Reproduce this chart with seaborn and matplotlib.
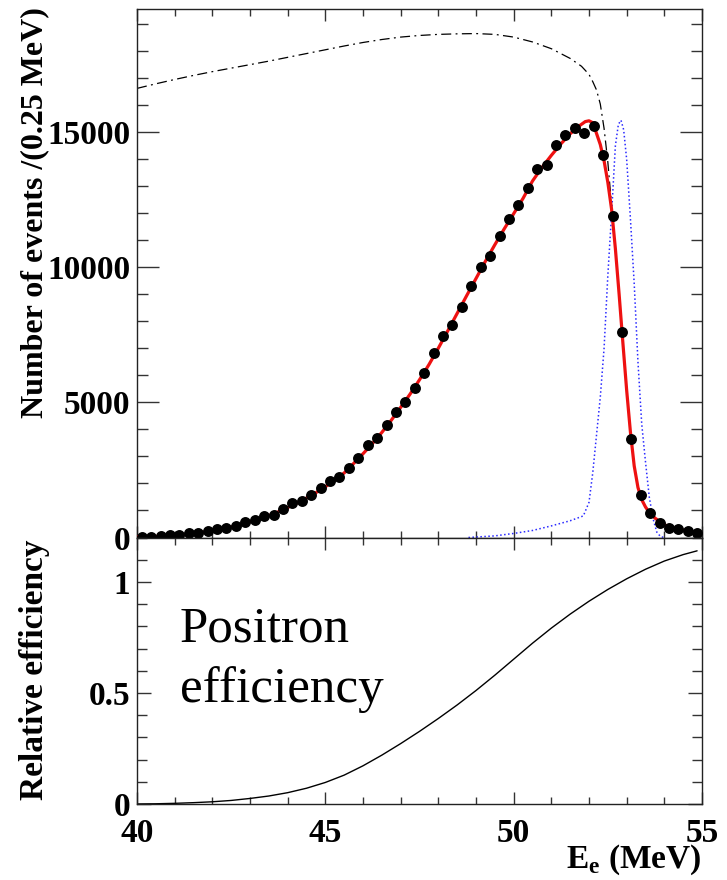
import numpy as np
import pandas as pd
import matplotlib
matplotlib.use("Agg")
import matplotlib.pyplot as plt
import seaborn as sns
from matplotlib.ticker import MultipleLocator

# ---------------- data ----------------
bin_lo, bin_width = 40.0, 0.25
counts = [30, 30, 50, 75, 75, 150, 185, 245, 310, 355,
          430, 565, 650, 790, 850, 1050, 1260, 1345, 1590, 1850,
          2100, 2245, 2580, 2960, 3420, 3670, 4150, 4630, 5025, 5540,
          6085, 6815, 7468, 7876, 8530, 9297, 10000, 10420, 11172, 11778,
          12321, 12938, 13630, 13790, 14519, 14901, 15161, 14987, 15223, 14160,
          11901, 7616, 3630, 1567, 889, 555, 370, 307, 245, 170]

fit_x = [40.0, 40.25, 40.5, 40.75, 41.0, 41.25, 41.5, 41.75, 42.0, 42.25, 42.5, 42.75,
         43.0, 43.25, 43.5, 43.75, 44.0, 44.25, 44.5, 44.75, 45.0, 45.25, 45.5, 45.75,
         46.0, 46.25, 46.5, 46.75, 47.0, 47.25, 47.5, 47.75, 48.0, 48.25, 48.5, 48.75,
         49.0, 49.25, 49.5, 49.75, 50.0, 50.25, 50.5, 50.75, 51.0, 51.25, 51.5, 51.75,
         51.9, 52.0, 52.1, 52.2, 52.3, 52.4, 52.5, 52.6, 52.7, 52.8, 52.9, 53.0,
         53.1, 53.2, 53.3, 53.4, 53.5, 53.6, 53.75, 54.0, 54.25, 54.5, 54.75, 55.0]
fit_y = [25, 30, 40, 55, 80, 110, 150, 195, 250, 315, 390, 480,
         580, 690, 810, 950, 1110, 1280, 1460, 1660, 1880, 2120, 2390, 2740,
         3100, 3480, 3890, 4340, 4820, 5310, 5840, 6400, 7010, 7650, 8300, 8950,
         9590, 10230, 10840, 11430, 11990, 12560, 13200, 13700, 14150, 14570, 14950, 15250,
         15400, 15430, 15360, 14960, 14550, 13950, 13150, 12150, 10700, 9000, 7200, 5450,
         3900, 2650, 1850, 1400, 1130, 930, 720, 470, 340, 270, 210, 160]

michel_x = [40.0, 40.5, 41.0, 41.5, 42.0, 42.5, 43.0, 43.5, 44.0, 44.5, 45.0, 45.5,
            46.0, 46.5, 47.0, 47.5, 48.0, 48.5, 49.0, 49.5, 50.0, 50.5, 51.0, 51.5,
            51.8, 52.0, 52.1, 52.2, 52.3, 52.4, 52.5, 52.6]
michel_y = [16630, 16800, 16960, 17110, 17250, 17380, 17510, 17640, 17780, 17920, 18060, 18200,
            18330, 18440, 18530, 18590, 18630, 18650, 18660, 18630, 18530, 18350, 18100, 17740,
            17450, 17150, 16880, 16570, 16050, 15150, 13900, 12300]

reso_x = [48.8, 49.5, 50.0, 50.5, 51.0, 51.5, 51.85, 52.0, 52.1, 52.2, 52.3, 52.4,
          52.5, 52.6, 52.7, 52.78, 52.85, 52.92, 53.0, 53.1, 53.2, 53.3, 53.4, 53.5,
          53.6, 53.7, 53.8, 53.9, 54.0]
reso_y = [0, 60, 150, 260, 430, 620, 800, 1300, 2400, 3800, 5200, 7000,
          9700, 12000, 14500, 15300, 15450, 15100, 14000, 11800, 9400, 6500, 4200, 2800,
          1500, 700, 200, 30, 0]

eff_x = [40.0, 40.5, 41.0, 41.5, 42.0, 42.5, 43.0, 43.5, 44.0, 44.5, 45.0, 45.5,
         46.0, 46.5, 47.0, 47.5, 48.0, 48.5, 49.0, 49.5, 50.0, 50.5, 51.0, 51.5,
         52.0, 52.5, 53.0, 53.5, 54.0, 54.5, 54.87]
eff_y = [0.0, 0.001, 0.003, 0.006, 0.010, 0.016, 0.025, 0.036, 0.051, 0.071, 0.097, 0.130,
         0.172, 0.220, 0.272, 0.327, 0.385, 0.446, 0.511, 0.580, 0.652, 0.724, 0.792, 0.855,
         0.913, 0.966, 1.014, 1.057, 1.094, 1.123, 1.140]

# ---------------- style ----------------
sns.set_theme(style="ticks")
SERIF = ['Liberation Serif', 'DejaVu Serif']
plt.rcParams['font.family'] = SERIF
plt.rcParams['text.color'] = 'black'
plt.rcParams['xtick.color'] = 'black'
plt.rcParams['ytick.color'] = 'black'
plt.rcParams['mathtext.fontset'] = 'custom'
plt.rcParams['mathtext.rm'] = 'Liberation Serif'
plt.rcParams['mathtext.bf'] = 'Liberation Serif:bold'
plt.rcParams['axes.linewidth'] = 1.0
plt.rcParams['axes.edgecolor'] = '#222222'

W, H = 727, 880
fig = plt.figure(figsize=(W / 100, H / 100), dpi=100)
left = 137 / W
width = (702 - 137) / W
ax1 = fig.add_axes([left, 1 - 537.5 / H, width, (537.5 - 9) / H])
ax2 = fig.add_axes([left, 1 - 804 / H, width, (804 - 537.5) / H])

centers = bin_lo + bin_width / 2 + bin_width * np.arange(len(counts))
df_pts = pd.DataFrame({"E": centers, "N": counts})
df_fit = pd.DataFrame({"E": fit_x, "N": fit_y})
df_mich = pd.DataFrame({"E": michel_x, "N": michel_y})
df_reso = pd.DataFrame({"E": reso_x, "N": reso_y})
df_eff = pd.DataFrame({"E": eff_x, "eff": eff_y})

sns.lineplot(data=df_mich, x="E", y="N", ax=ax1, color="black", lw=0.9,
             sort=False, estimator=None)
ax1.lines[-1].set_dashes((8, 3.5, 1.5, 3.5))
sns.lineplot(data=df_reso, x="E", y="N", ax=ax1, color="#2a2aff", lw=1.1,
             sort=False, estimator=None)
ax1.lines[-1].set_linestyle((0, (1, 1.6)))
sns.lineplot(data=df_fit, x="E", y="N", ax=ax1, color="#ee1111", lw=2.3,
             sort=False, estimator=None, zorder=3)
sns.scatterplot(data=df_pts, x="E", y="N", ax=ax1, color="black", s=62,
                edgecolor="black", linewidth=0, zorder=4)

sns.lineplot(data=df_eff, x="E", y="eff", ax=ax2, color="black", lw=1.0,
             sort=False, estimator=None)

TICKFS = 24
for ax in (ax1, ax2):
    ax.set_xlim(40, 55)
    ax.xaxis.set_major_locator(MultipleLocator(5))
    ax.xaxis.set_minor_locator(MultipleLocator(1))
    ax.set_xlabel("")
    ax.set_ylabel("")
    ax.tick_params(which="both", direction="in", top=True, right=True,
                   color="#333333", width=1.0)

ax1.set_ylim(0, 19570)
ax1.yaxis.set_minor_locator(MultipleLocator(1000))
ax1.tick_params(axis="y", which="major", length=15.5, pad=5)
ax1.tick_params(axis="y", which="minor", length=8)
ax1.tick_params(axis="x", which="major", length=8.5, labelbottom=False)
ax1.tick_params(axis="x", which="minor", length=5)
ax1.set_yticks([0, 5000, 10000, 15000])
ax1.set_yticklabels(["0", "5000", "10000", "15000"], fontweight="bold", fontsize=TICKFS)

ax2.set_ylim(0, 1.2)
ax2.yaxis.set_minor_locator(MultipleLocator(0.1))
ax2.tick_params(axis="y", which="major", length=10, pad=5)
ax2.tick_params(axis="y", which="minor", length=7)
ax2.tick_params(axis="x", which="major", length=8.5, pad=10)
ax2.tick_params(axis="x", which="minor", length=5)
ax2.set_yticks([0, 0.5, 1])
ax2.set_yticklabels(["0", "0.5", "1"], fontweight="bold", fontsize=TICKFS)
ax2.set_xticks([40, 45, 50, 55])
ax2.set_xticklabels(["40", "45", "50", "55"], fontweight="bold", fontsize=TICKFS)

fig.text(35 / W, 1 - 7 / H, "Number of events /(0.25 MeV)", rotation=90,
         ha="center", va="top", fontsize=23, fontweight="bold", family=SERIF)
fig.text(35 / W, 1 - 539 / H, "Relative efficiency", rotation=90,
         ha="center", va="top", fontsize=24, fontweight="bold", family=SERIF)
fig.text(702 / W, 1 - 868 / H, r"$\mathbf{E}_{\mathbf{e}}$ (MeV)",
         ha="right", va="baseline", fontsize=24, fontweight="bold", family=SERIF)
fig.text(180 / W, 1 - 641.7 / H, "Positron", ha="left", va="baseline",
         fontsize=36.7, fontweight="normal", family=['Liberation Serif'])
fig.text(180 / W, 1 - 701.7 / H, "efficiency", ha="left", va="baseline",
         fontsize=36.7, fontweight="normal", family=['Liberation Serif'])

fig.savefig("out.png", dpi=100)
